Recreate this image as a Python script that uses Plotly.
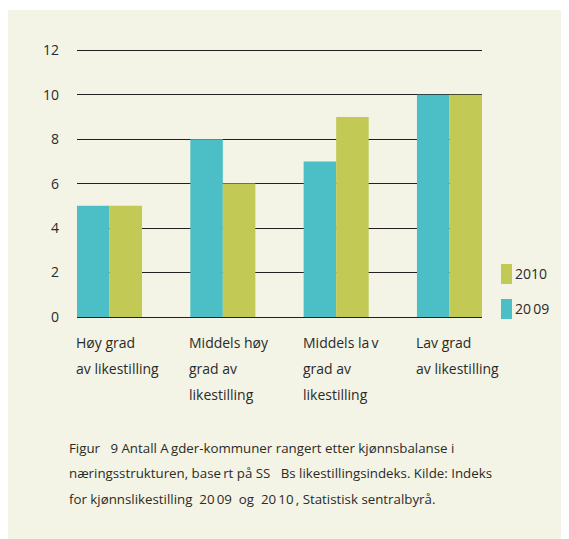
import plotly.graph_objects as go

# ---- data ----
categories = [
    ["Høy grad", "av likestilling"],
    ["Middels høy", "grad av", "likestilling"],
    ["Middels la\u2009v", "grad av", "likestilling"],
    ["Lav grad", "av likestilling"],
]
values_2009 = [5, 8, 7, 10]
values_2010 = [5, 6, 9, 10]
series_names = ["20\u200909", "2010"]
y_ticks = [0, 2, 4, 6, 8, 10, 12]
caption_lines = [
    "Figur\u00a0\u00a0\u00a09 Antall A\u2009gder-kommuner rangert etter kjønnsbalanse i",
    "næringsstrukturen, base\u2009rt på SS\u00a0\u00a0\u00a0Bs likestillingsindeks. Kilde: Indeks",
    "for kjønnslikestilling\u00a0\u00a020\u200909\u00a0\u00a0og\u00a0\u00a020\u200910\u2009, Statistisk sentralbyrå.",
]

# ---- style ----
TEAL = "#4cbfc6"
GREEN = "#c3c955"
BEIGE = "#f3f4e5"
TXT = "#2b2a29"
FONT = "Open Sans"

OFF = 8  # page body margin
W, H = 569 - OFF, 539 - OFF
Y0PX, Y12PX = 317 - OFF, 50.3 - OFF      # pixel rows of value 0 and 12
YMAX = 12.1
unit = (Y0PX - Y12PX) / 12
L = 77 - OFF
R = W - (482 - OFF)
B = H - Y0PX
T = Y12PX - (YMAX - 12) * unit
pw = W - L - R
ph = H - T - B
pad = 0.287

x_idx = list(range(len(categories)))

fig = go.Figure()
fig.add_trace(go.Bar(x=x_idx, y=values_2009, name=series_names[0],
                     marker=dict(color=TEAL, line=dict(width=0))))
fig.add_trace(go.Bar(x=x_idx, y=values_2010, name=series_names[1],
                     marker=dict(color=GREEN, line=dict(width=0))))


def py(ypx):
    return (H - B - (ypx - OFF)) / ph


def px(xpx):
    return (xpx - OFF - L) / pw


annotations = []
for i, lines in enumerate(categories):
    for j, line in enumerate(lines):
        annotations.append(dict(
            x=i - pad, xref="x", xanchor="left",
            y=py(342.5 + 25.8 * j), yref="paper", yanchor="middle",
            text=line, showarrow=False, align="left",
            font=dict(family=FONT, size=14, color=TXT), xshift=-3,
        ))
for j, line in enumerate(caption_lines):
    annotations.append(dict(
        x=px(70), xref="paper", xanchor="left",
        y=py(447.5 + 25.5 * j), yref="paper", yanchor="middle",
        text=line, showarrow=False, align="left",
        font=dict(family=FONT, size=13.3, color=TXT), xshift=-3,
    ))

legend_items = [(series_names[1], GREEN, 264), (series_names[0], TEAL, 299)]
shapes = [dict(type="rect", xref="paper", yref="paper",
               x0=px(8), x1=px(600), y0=py(560), y1=py(10),
               fillcolor=BEIGE, line=dict(width=0), layer="below")]
for name, col, ytop in legend_items:
    shapes.append(dict(type="rect", xref="paper", yref="paper",
                       x0=px(501), x1=px(512), y0=py(ytop + 20), y1=py(ytop),
                       fillcolor=col, line=dict(width=0), layer="above"))
    annotations.append(dict(
        x=px(516), xref="paper", xanchor="left",
        y=py(ytop + 10), yref="paper", yanchor="middle",
        text=name, showarrow=False,
        font=dict(family=FONT, size=14, color=TXT), xshift=-3,
    ))

fig.update_layout(
    width=W, height=H,
    margin=dict(l=L, r=R, t=T, b=B, pad=0),
    paper_bgcolor="white",
    plot_bgcolor="rgba(0,0,0,0)",
    barmode="group",
    bargap=1 - 2 * pad,
    bargroupgap=0,
    showlegend=False,
    font=dict(family=FONT, size=14, color=TXT),
    shapes=shapes,
    annotations=annotations,
    xaxis=dict(range=[-pad, len(categories) - 1 + pad], showticklabels=False,
               showgrid=False, zeroline=False, showline=False, ticks=""),
    yaxis=dict(range=[0, YMAX], tickvals=y_ticks, ticktext=[str(v) for v in y_ticks],
               showgrid=True, gridcolor="#231f20", gridwidth=1.3,
               zeroline=True, zerolinecolor="#231f20", zerolinewidth=1.3,
               showline=False, ticks="", ticklabelstandoff=17,
               tickfont=dict(family=FONT, size=14, color=TXT)),
)

fig.write_html("out.html")
